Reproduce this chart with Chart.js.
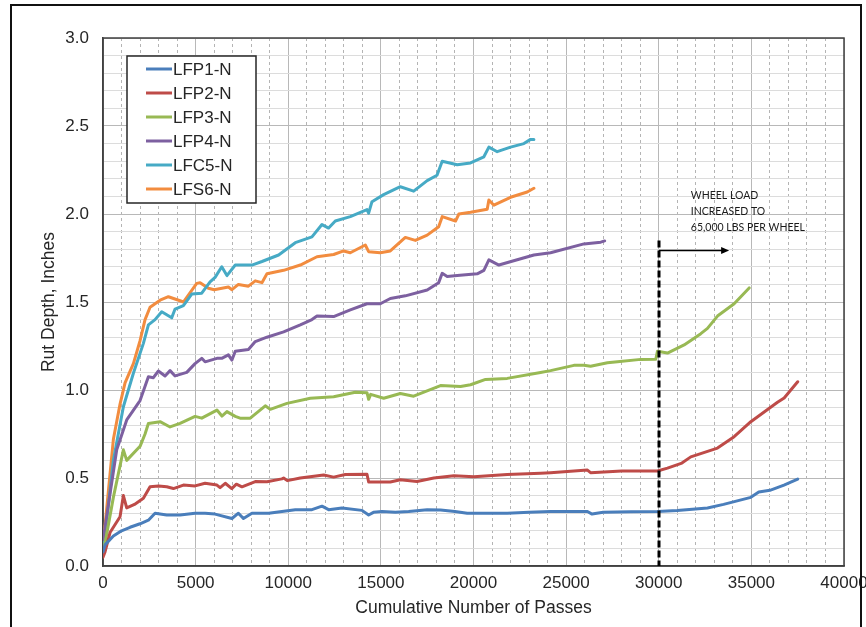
<!DOCTYPE html>
<html>
<head>
<meta charset="utf-8">
<title>Rut Depth vs Cumulative Passes</title>
<script src="https://cdn.jsdelivr.net/npm/chart.js@4.4.0/dist/chart.umd.min.js"></script>
<style>
    html, body { margin: 0; padding: 0; background: #ffffff; }
    #wrap { position: relative; width: 866px; height: 627px; }
</style>
</head>
<body>
<div id="wrap"><canvas id="rutChart" width="866" height="627"></canvas></div>
<script>
// Series labels and colours (Office 2007 palette)
const seriesNames = ['LFP1-N', 'LFP2-N', 'LFP3-N', 'LFP4-N', 'LFC5-N', 'LFS6-N'];
const seriesColors = ['#4a7ebb', '#be4b48', '#98b954', '#7d60a0', '#46aac5', '#f28c3f'];

// Cumulative passes and rut depth (inches)
const lfp1Passes = [0, 110, 560, 1000, 1460, 2000, 2450, 2810, 3440, 4160, 4970, 5510, 6050, 6960, 7310, 7580, 8040, 8940, 9660, 10380, 11280, 11820, 12180, 12900, 13980, 14340, 14600, 15060, 15780, 16500, 17500, 18220, 19000, 19660, 20500, 21820, 23000, 24160, 25400, 26150, 26400, 27000, 28500, 29930, 31000, 32630, 33500, 34970, 35400, 36000, 36760, 37500];
const lfp1Rut = [0.08, 0.12, 0.17, 0.20, 0.22, 0.24, 0.26, 0.30, 0.29, 0.29, 0.30, 0.30, 0.295, 0.27, 0.30, 0.27, 0.30, 0.30, 0.31, 0.32, 0.32, 0.34, 0.32, 0.33, 0.316, 0.29, 0.305, 0.31, 0.305, 0.31, 0.32, 0.318, 0.31, 0.30, 0.30, 0.30, 0.305, 0.309, 0.31, 0.31, 0.295, 0.305, 0.308, 0.31, 0.315, 0.33, 0.35, 0.39, 0.42, 0.43, 0.46, 0.494];

const lfp2Passes = [0, 110, 380, 920, 1100, 1280, 1700, 2180, 2540, 3000, 3440, 3800, 4340, 4970, 5510, 6150, 6320, 6600, 6950, 7200, 7500, 8220, 8850, 9660, 9750, 9950, 10650, 11910, 12450, 13080, 14250, 14340, 15510, 16050, 16950, 17860, 18940, 20020, 21820, 23620, 24160, 26150, 26320, 28000, 29930, 30470, 31250, 31730, 33170, 34070, 34970, 36410, 36770, 37500];
const lfp2Rut = [0.05, 0.08, 0.19, 0.28, 0.40, 0.33, 0.35, 0.385, 0.45, 0.455, 0.45, 0.44, 0.46, 0.455, 0.47, 0.46, 0.445, 0.47, 0.44, 0.465, 0.45, 0.48, 0.479, 0.495, 0.50, 0.485, 0.50, 0.517, 0.505, 0.52, 0.521, 0.477, 0.477, 0.49, 0.48, 0.50, 0.513, 0.507, 0.52, 0.527, 0.53, 0.545, 0.53, 0.54, 0.54, 0.556, 0.585, 0.62, 0.67, 0.735, 0.82, 0.93, 0.955, 1.047];

const lfp3Passes = [0, 110, 560, 1100, 1280, 2000, 2270, 2450, 3080, 3620, 4160, 4970, 5330, 6150, 6420, 6690, 7140, 7400, 7950, 8760, 9030, 9930, 11190, 12450, 13620, 14250, 14340, 14450, 15150, 16050, 16770, 18220, 19300, 19840, 20650, 21820, 23620, 24160, 25420, 25960, 26320, 27230, 27770, 29030, 29840, 29930, 30470, 31370, 32270, 32630, 33170, 34070, 34880];
const lfp3Rut = [0.10, 0.13, 0.39, 0.66, 0.60, 0.68, 0.75, 0.81, 0.82, 0.79, 0.81, 0.85, 0.84, 0.886, 0.852, 0.877, 0.85, 0.84, 0.84, 0.91, 0.89, 0.924, 0.953, 0.962, 0.987, 0.985, 0.947, 0.975, 0.953, 0.98, 0.965, 1.025, 1.02, 1.03, 1.06, 1.066, 1.10, 1.11, 1.14, 1.14, 1.135, 1.155, 1.16, 1.174, 1.175, 1.22, 1.21, 1.256, 1.32, 1.35, 1.42, 1.49, 1.58];

const lfp4Passes = [0, 110, 380, 740, 1280, 2000, 2450, 2720, 2990, 3350, 3620, 3890, 4520, 4970, 5330, 5510, 6150, 6410, 6770, 6960, 7140, 7850, 8220, 8850, 9750, 10650, 11280, 11550, 12450, 13350, 14250, 14970, 15510, 16320, 17500, 18120, 18310, 18580, 19120, 20200, 20560, 20830, 21370, 22360, 23260, 24160, 25960, 26870, 27080];
const lfp4Rut = [0.15, 0.22, 0.41, 0.66, 0.83, 0.94, 1.075, 1.07, 1.108, 1.08, 1.11, 1.08, 1.10, 1.15, 1.18, 1.16, 1.18, 1.18, 1.20, 1.17, 1.22, 1.23, 1.275, 1.30, 1.33, 1.37, 1.40, 1.42, 1.417, 1.455, 1.49, 1.49, 1.52, 1.535, 1.568, 1.61, 1.663, 1.645, 1.65, 1.66, 1.68, 1.739, 1.71, 1.74, 1.767, 1.78, 1.83, 1.84, 1.847];

const lfc5Passes = [0, 110, 560, 1100, 1640, 2180, 2450, 2810, 3170, 3710, 3890, 4340, 4790, 5330, 5780, 6050, 6410, 6690, 7140, 8040, 8580, 9480, 10380, 11280, 11820, 12180, 12540, 13350, 14250, 14340, 14520, 15150, 16050, 16770, 17500, 18030, 18310, 19120, 19840, 20560, 20830, 21280, 22000, 22720, 23080, 23260];
const lfc5Rut = [0.12, 0.17, 0.60, 0.905, 1.095, 1.265, 1.37, 1.40, 1.445, 1.41, 1.46, 1.48, 1.545, 1.55, 1.615, 1.64, 1.70, 1.65, 1.71, 1.71, 1.73, 1.767, 1.837, 1.87, 1.94, 1.92, 1.96, 1.985, 2.025, 2.005, 2.07, 2.11, 2.155, 2.13, 2.19, 2.22, 2.30, 2.28, 2.29, 2.325, 2.38, 2.354, 2.38, 2.40, 2.424, 2.424];

const lfs6Passes = [0, 110, 560, 920, 1190, 1640, 2000, 2270, 2540, 3080, 3530, 4160, 4340, 5060, 5240, 5690, 6000, 6770, 6960, 7310, 7850, 8220, 8580, 8850, 9750, 10650, 11550, 12450, 12990, 13350, 14160, 14340, 14970, 15510, 16320, 16860, 17500, 18120, 18310, 19030, 19210, 19840, 20740, 20830, 21100, 22000, 22900, 23260];
const lfs6Rut = [0.15, 0.23, 0.72, 0.92, 1.04, 1.15, 1.28, 1.40, 1.47, 1.51, 1.53, 1.507, 1.50, 1.606, 1.61, 1.578, 1.57, 1.585, 1.57, 1.60, 1.59, 1.62, 1.61, 1.66, 1.68, 1.71, 1.757, 1.77, 1.79, 1.78, 1.824, 1.786, 1.78, 1.79, 1.867, 1.85, 1.88, 1.928, 1.985, 1.96, 2.00, 2.01, 2.027, 2.08, 2.05, 2.095, 2.125, 2.146];

const allPasses = [lfp1Passes, lfp2Passes, lfp3Passes, lfp4Passes, lfc5Passes, lfs6Passes];
const allRut = [lfp1Rut, lfp2Rut, lfp3Rut, lfp4Rut, lfc5Rut, lfs6Rut];

// Annotation (data coordinates)
const loadChangePasses = 30000;
const loadLineTop = 1.85;
const arrowLevel = 1.795;
const arrowEndPasses = 33800;
const noteLines = ['WHEEL LOAD', 'INCREASED TO', '65,000 LBS PER WHEEL'];
const notePasses = 31730;
const noteLevels = [2.102, 2.011, 1.92];

const FONT = '"Liberation Sans", Arial, sans-serif';
const TEXT_COLOR = '#262626';

Chart.defaults.font.family = FONT;
Chart.defaults.color = TEXT_COLOR;

// White page + outer frame
const pageFrame = {
    id: 'pageFrame',
    beforeDraw(chart) {
        const ctx = chart.ctx;
        ctx.save();
        ctx.fillStyle = '#ffffff';
        ctx.fillRect(0, 0, chart.width, chart.height);
        ctx.restore();
    },
    afterDraw(chart) {
        const ctx = chart.ctx;
        ctx.save();
        ctx.strokeStyle = '#111111';
        ctx.lineWidth = 2;
        ctx.strokeRect(11, 5, 850, 640);
        ctx.restore();
    }
};

// Box around the plot area
const plotFrame = {
    id: 'plotFrame',
    beforeDatasetsDraw(chart) {
        const { ctx, chartArea } = chart;
        ctx.save();
        ctx.strokeStyle = '#404040';
        ctx.lineWidth = 1.5;
        ctx.strokeRect(chartArea.left, chartArea.top, chartArea.right - chartArea.left, chartArea.bottom - chartArea.top);
        ctx.restore();
    }
};

// Dashed load-change line, arrow and note
const loadNote = {
    id: 'loadNote',
    afterDatasetsDraw(chart) {
        const { ctx } = chart;
        const x = chart.scales.x;
        const y = chart.scales.y;
        const px = Math.round(x.getPixelForValue(loadChangePasses));

        ctx.save();
        ctx.strokeStyle = '#000000';
        ctx.lineWidth = 3;
        ctx.setLineDash([7, 3]);
        ctx.beginPath();
        ctx.moveTo(px, y.getPixelForValue(loadLineTop));
        ctx.lineTo(px, y.getPixelForValue(0));
        ctx.stroke();

        // arrow
        const ay = Math.round(y.getPixelForValue(arrowLevel)) + 0.5;
        const ax2 = x.getPixelForValue(arrowEndPasses);
        ctx.setLineDash([]);
        ctx.lineWidth = 1.5;
        ctx.beginPath();
        ctx.moveTo(px, ay);
        ctx.lineTo(ax2 - 6, ay);
        ctx.stroke();
        ctx.fillStyle = '#000000';
        ctx.beginPath();
        ctx.moveTo(ax2, ay);
        ctx.lineTo(ax2 - 8, ay - 3.5);
        ctx.lineTo(ax2 - 8, ay + 3.5);
        ctx.closePath();
        ctx.fill();

        // note text
        ctx.fillStyle = '#1a1a1a';
        ctx.font = '10.5px Lato, "Open Sans", sans-serif';
        ctx.textBaseline = 'middle';
        ctx.textAlign = 'left';
        noteLines.forEach((line, i) => {
            ctx.fillText(line, x.getPixelForValue(notePasses), y.getPixelForValue(noteLevels[i]));
        });
        ctx.restore();
    }
};

// Legend box inside the plot, upper left
const legendBox = {
    id: 'legendBox',
    afterDatasetsDraw(chart) {
        const { ctx, chartArea } = chart;
        const left = chartArea.left + 24;
        const top = chartArea.top + 18;
        const w = 129, h = 147, row = 24;
        ctx.save();
        ctx.fillStyle = '#ffffff';
        ctx.fillRect(left, top, w, h);
        ctx.strokeStyle = '#262626';
        ctx.lineWidth = 1.5;
        ctx.strokeRect(left, top, w, h);
        ctx.font = '17px ' + FONT;
        ctx.textBaseline = 'middle';
        chart.data.datasets.forEach((ds, i) => {
            const yy = top + 13 + i * row;
            ctx.strokeStyle = ds.borderColor;
            ctx.lineWidth = 3;
            ctx.beginPath();
            ctx.moveTo(left + 19, yy);
            ctx.lineTo(left + 45, yy);
            ctx.stroke();
            ctx.fillStyle = TEXT_COLOR;
            ctx.fillText(ds.label, left + 46, yy + 1);
        });
        ctx.restore();
    }
};

const datasets = seriesNames.map((name, i) => ({
    label: name,
    data: allPasses[i].map((p, j) => ({ x: p, y: allRut[i][j] })),
    borderColor: seriesColors[i],
    backgroundColor: seriesColors[i],
    borderWidth: 3,
    pointRadius: 0,
    tension: 0,
    borderJoinStyle: 'round',
    borderCapStyle: 'round',
    fill: false
}));

const isMajor = (v, step) => Math.abs(v / step - Math.round(v / step)) < 1e-6;

new Chart(document.getElementById('rutChart'), {
    type: 'line',
    data: { datasets: datasets },
    plugins: [pageFrame, plotFrame, loadNote, legendBox],
    options: {
        responsive: false,
        animation: false,
        devicePixelRatio: 1,
        layout: { padding: { top: 38, right: 22, left: 0, bottom: 0 } },
        plugins: {
            legend: { display: false },
            tooltip: { enabled: false }
        },
        scales: {
            xMinor: {
                type: 'linear',
                position: 'bottom',
                min: 0,
                max: 40000,
                ticks: { display: false, stepSize: 1000 },
                grid: {
                    drawTicks: false,
                    color: (c) => isMajor(c.tick.value, 5000) ? 'rgba(0,0,0,0)' : '#b4b4b4',
                    lineWidth: 1
                },
                border: { display: false, dash: [3, 3] },
                afterFit(scale) { scale.height = 0; scale.paddingLeft = 0; scale.paddingRight = 0; }
            },
            x: {
                type: 'linear',
                position: 'bottom',
                min: 0,
                max: 40000,
                ticks: {
                    stepSize: 5000,
                    padding: 7,
                    font: { size: 17 },
                    color: TEXT_COLOR,
                    maxRotation: 0,
                    callback: (v) => String(v)
                },
                grid: { drawTicks: false, color: '#b8b8b8', lineWidth: 1 },
                border: { display: true, color: '#404040', width: 1.5 },
                title: {
                    display: true,
                    text: 'Cumulative Number of Passes',
                    font: { size: 17.5 },
                    color: TEXT_COLOR,
                    padding: { top: 0, bottom: 8 }
                },
                afterFit(scale) { scale.height = 61; scale.paddingLeft = 0; scale.paddingRight = 0; }
            },
            y: {
                type: 'linear',
                min: 0,
                max: 3,
                ticks: {
                    stepSize: 0.1,
                    autoSkip: false,
                    padding: 14,
                    font: { size: 17 },
                    color: TEXT_COLOR,
                    callback: (v) => isMajor(v, 0.5) ? v.toFixed(1) : ''
                },
                grid: {
                    drawTicks: false,
                    color: (c) => isMajor(c.tick.value, 0.5) ? '#b8b8b8' : '#dcdcdc',
                    lineWidth: 1
                },
                border: { display: true, color: '#404040', width: 1.5 },
                title: {
                    display: true,
                    text: 'Rut Depth, Inches',
                    font: { size: 17.5 },
                    color: TEXT_COLOR,
                    padding: { top: 39, bottom: 0 }
                },
                afterFit(scale) { scale.width = 103; scale.paddingTop = 0; scale.paddingBottom = 0; }
            }
        }
    }
});
</script>
</body>
</html>
